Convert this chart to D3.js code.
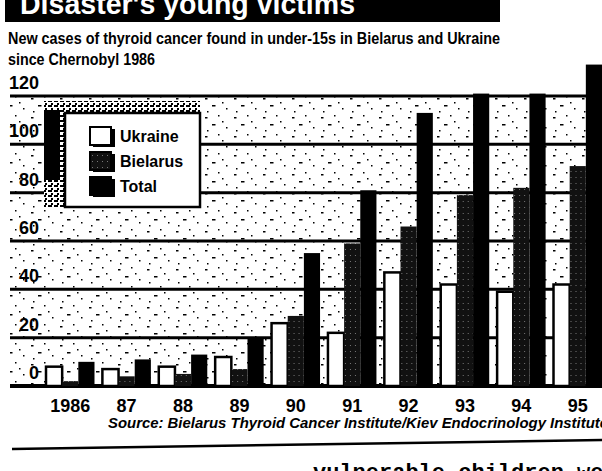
<!DOCTYPE html>
<html>
<head>
<meta charset="utf-8">
<script src="https://cdn.jsdelivr.net/npm/d3@7"></script>
<style>
  body { margin: 0; background: #fff; }
  svg { display: block; }
  text { font-family: "Liberation Sans Narrow", "Arial Narrow", "Liberation Sans", Arial, sans-serif; font-weight: bold; }
</style>
</head>
<body>
<script>
const years = ["1986", "87", "88", "89", "90", "91", "92", "93", "94", "95"];
const ukraine = [8, 7, 8, 12, 26, 22, 47, 42, 39, 42];
const belarus = [2, 4, 5, 7, 29, 59, 66, 79, 82, 91];
const total = [10, 11, 13, 20, 55, 81, 113, 121, 121, 133];
const seriesNames = ["Ukraine", "Bielarus", "Total"];
const yTicks = [0, 20, 40, 60, 80, 100, 120];

const svgWidth = 602;
const svgHeight = 471;

const svg = d3.select("body").append("svg")
  .attr("width", svgWidth)
  .attr("height", svgHeight);

// patterns for the scanned screen tones
const defs = svg.append("defs");
const stip = defs.append("pattern").attr("id", "stip")
  .attr("width", 29).attr("height", 19).attr("patternUnits", "userSpaceOnUse");
[[2, 3, 2.5, 1.5], [15, 1, 1.5, 1.5], [9, 10, 3.5, 1.5], [23, 13, 1.5, 1.5], [4, 16, 1.5, 1.5], [19, 7, 1.5, 1.5]].forEach(([x, y, w, h]) =>
  stip.append("rect").attr("x", x).attr("y", y).attr("width", w).attr("height", h).attr("fill", "#000"));

const dense = defs.append("pattern").attr("id", "dense")
  .attr("width", 6).attr("height", 5).attr("patternUnits", "userSpaceOnUse");
dense.append("rect").attr("width", 6).attr("height", 5).attr("fill", "#fff");
dense.append("rect").attr("width", 4).attr("height", 2).attr("fill", "#000");
dense.append("rect").attr("x", 3).attr("y", 3).attr("width", 2).attr("height", 2).attr("fill", "#000");

const bel = defs.append("pattern").attr("id", "bel")
  .attr("width", 5).attr("height", 6).attr("patternUnits", "userSpaceOnUse");
bel.append("rect").attr("width", 5).attr("height", 6).attr("fill", "#111");
bel.append("rect").attr("x", 2).attr("y", 3).attr("width", 1).attr("height", 1).attr("fill", "#777");

//=====
// title strip (cut off at the top, as in the scan)
//=====
svg.append("rect").attr("x", 5).attr("y", 0).attr("width", 495).attr("height", 22).attr("fill", "#000");
svg.append("text")
  .attr("x", 20).attr("y", 14)
  .attr("textLength", 335).attr("lengthAdjust", "spacingAndGlyphs")
  .style("font-family", "'Liberation Sans', Arial, sans-serif")
  .attr("font-size", 30).attr("fill", "#fff")
  .text("Disaster's young victims");

svg.append("text")
  .attr("x", 8).attr("y", 44)
  .attr("textLength", 492).attr("lengthAdjust", "spacingAndGlyphs")
  .attr("font-size", 16)
  .text("New cases of thyroid cancer found in under-15s in Bielarus and Ukraine");
svg.append("text")
  .attr("x", 8).attr("y", 65)
  .attr("textLength", 147).attr("lengthAdjust", "spacingAndGlyphs")
  .attr("font-size", 16)
  .text("since Chernobyl 1986");

//scales
const x0 = d3.scaleBand()
  .domain(years)
  .range([46, 602])
  .paddingInner(0.14)
  .paddingOuter(0);

const x1 = d3.scaleBand()
  .domain(seriesNames)
  .range([0, x0.bandwidth()]);

const yScale = d3.scaleLinear()
  .domain([0, 120])
  .range([386, 96]);

// screened background
svg.append("rect")
  .attr("x", 10).attr("y", yScale(120))
  .attr("width", svgWidth - 10).attr("height", yScale(0) - yScale(120))
  .attr("fill", "url(#stip)");

// gridlines + labels
svg.append("g")
  .selectAll("line")
  .data(yTicks)
  .join("line")
  .attr("x1", 10).attr("x2", svgWidth)
  .attr("y1", (d) => yScale(d)).attr("y2", (d) => yScale(d))
  .attr("stroke", "#000")
  .attr("stroke-width", (d) => (d === 0 ? 4 : 3));

svg.append("g")
  .selectAll("text")
  .data(yTicks)
  .join("text")
  .attr("x", 39)
  .attr("y", (d) => yScale(d) - 7)
  .attr("text-anchor", "end")
  .attr("font-size", 18)
  .text((d) => d);

//=====
// bars
//=====
const rows = years.map((yr, i) => ({
  year: yr,
  vals: [
    { key: "Ukraine", v: ukraine[i] },
    { key: "Bielarus", v: belarus[i] },
    { key: "Total", v: total[i] }
  ]
}));

const fills = { Ukraine: "#fff", Bielarus: "url(#bel)", Total: "#000" };

svg.append("g")
  .selectAll("g")
  .data(rows)
  .join("g")
  .attr("transform", (d) => `translate(${x0(d.year)},0)`)
  .selectAll("rect")
  .data((d) => d.vals)
  .join("rect")
  .attr("x", (d) => x1(d.key))
  .attr("y", (d) => yScale(d.v))
  .attr("width", x1.bandwidth())
  .attr("height", (d) => yScale(0) - yScale(d.v))
  .attr("fill", (d) => fills[d.key])
  .attr("stroke", "#000")
  .attr("stroke-width", (d) => (d.key === "Ukraine" ? 2.5 : 0));

// year labels
svg.append("g")
  .selectAll("text")
  .data(years)
  .join("text")
  .attr("x", (d) => x0(d) + x0.bandwidth() / 2)
  .attr("y", 412)
  .attr("text-anchor", "middle")
  .attr("font-size", 18)
  .text((d) => d);

//=====
// legend
//=====
svg.append("rect").attr("x", 44).attr("y", 101).attr("width", 156).attr("height", 107).attr("fill", "url(#dense)");
svg.append("rect").attr("x", 44).attr("y", 110).attr("width", 16).attr("height", 70).attr("fill", "#000");
svg.append("rect").attr("x", 65).attr("y", 113).attr("width", 135).attr("height", 94)
  .attr("fill", "#fff").attr("stroke", "#000").attr("stroke-width", 2.5);

const leg = svg.append("g")
  .selectAll("g")
  .data(seriesNames)
  .join("g")
  .attr("transform", (d, i) => `translate(90, ${127 + i * 25})`);

leg.append("rect").attr("x", 3).attr("y", 2).attr("width", 22).attr("height", 18).attr("fill", "#000");
leg.append("rect")
  .attr("width", 21).attr("height", 18)
  .attr("fill", (d) => fills[d])
  .attr("stroke", "#000").attr("stroke-width", 2);
leg.append("text")
  .attr("x", 30).attr("y", 15)
  .attr("font-size", 16)
  .text((d) => d);

//=====
// source + page bits
//=====
svg.append("text")
  .attr("x", 108).attr("y", 428)
  .attr("textLength", 500).attr("lengthAdjust", "spacingAndGlyphs")
  .attr("font-size", 14)
  .style("font-style", "italic")
  .text("Source: Bielarus Thyroid Cancer Institute/Kiev Endocrinology Institute");

svg.append("line")
  .attr("x1", 12).attr("y1", 449).attr("x2", svgWidth).attr("y2", 440)
  .attr("stroke", "#000").attr("stroke-width", 2.5);

svg.append("text")
  .attr("x", 313).attr("y", 479)
  .style("font-family", "'Liberation Mono', 'DejaVu Sans Mono', monospace")
  .attr("font-size", 22)
  .text("vulnerable children were");
</script>
</body>
</html>
